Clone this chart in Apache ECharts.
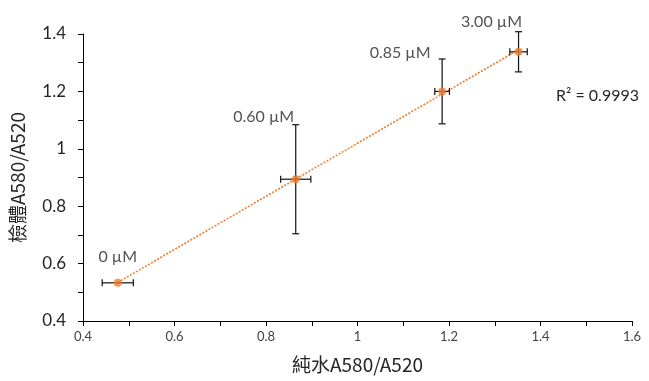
<!DOCTYPE html>
<html>
<head>
<meta charset="utf-8">
<script src="https://cdn.jsdelivr.net/npm/echarts@6/dist/echarts.min.js"></script>
<style>
html, body { margin: 0; padding: 0; background: #fff; }
#chart { width: 649px; height: 381px; }
</style>
</head>
<body>
<div id="chart"></div>
<script>
// values
var xValues   = [0.476, 0.865, 1.185, 1.352];
var yValues   = [0.533, 0.894, 1.200, 1.338];
var xErrors   = [0.034, 0.033, 0.016, 0.019];
var yErrors   = [0.000, 0.190, 0.113, 0.070];
var pointLabels = ['0 µM', '0.60 µM', '0.85 µM', '3.00 µM'];
var labelOffsets = [[0, -14], [-32, -50], [-42, -27], [-27, -18]];
var rSquaredText = 'R² = 0.9993';

var orange = '#ED7D31';
var font = 'Lato, "Open Sans", sans-serif';
var cjkFont = '"Noto Sans CJK TC", "Noto Sans", sans-serif';
var textColor = '#262626';

// least squares trendline from the points
function trendline(xs, ys) {
    var n = xs.length, sx = 0, sy = 0, sxx = 0, sxy = 0;
    for (var i = 0; i < n; i++) {
        sx += xs[i]; sy += ys[i]; sxx += xs[i] * xs[i]; sxy += xs[i] * ys[i];
    }
    var b = (n * sxy - sx * sy) / (n * sxx - sx * sx);
    var a = (sy - b * sx) / n;
    var x0 = Math.min.apply(null, xs), x1 = Math.max.apply(null, xs);
    return [[x0, a + b * x0], [x1, a + b * x1]];
}

var pointData = xValues.map(function (x, i) {
    return {
        value: [x, yValues[i]],
        label: { offset: labelOffsets[i], formatter: pointLabels[i] }
    };
});

var errorData = xValues.map(function (x, i) {
    return [x, yValues[i], xErrors[i], yErrors[i]];
});

function renderErrorBar(params, api) {
    var x = api.value(0), y = api.value(1), xe = api.value(2), ye = api.value(3);
    var style = { stroke: '#111', lineWidth: 1.2 };
    var children = [];
    var l = api.coord([x - xe, y]), r = api.coord([x + xe, y]);
    children.push({ type: 'line', shape: { x1: l[0], y1: l[1], x2: r[0], y2: r[1] }, style: style });
    children.push({ type: 'line', shape: { x1: l[0], y1: l[1] - 3.5, x2: l[0], y2: l[1] + 3.5 }, style: style });
    children.push({ type: 'line', shape: { x1: r[0], y1: r[1] - 3.5, x2: r[0], y2: r[1] + 3.5 }, style: style });
    if (ye > 0) {
        var t = api.coord([x, y + ye]), b = api.coord([x, y - ye]);
        children.push({ type: 'line', shape: { x1: t[0], y1: t[1], x2: b[0], y2: b[1] }, style: style });
        children.push({ type: 'line', shape: { x1: t[0] - 3.5, y1: t[1], x2: t[0] + 3.5, y2: t[1] }, style: style });
        children.push({ type: 'line', shape: { x1: b[0] - 3.5, y1: b[1], x2: b[0] + 3.5, y2: b[1] }, style: style });
    }
    return { type: 'group', children: children };
}

var myChart = echarts.init(document.getElementById('chart'));

var option = {
    animation: false,
    grid: { left: 82, right: 17, top: 34, bottom: 60 },
    xAxis: {
        type: 'value',
        min: 0.4, max: 1.6, interval: 0.2,
        name: '純水A580/A520',
        nameLocation: 'middle',
        nameGap: 34,
        nameTextStyle: { fontFamily: cjkFont, fontSize: 19, color: textColor },
        axisLine: { lineStyle: { color: '#000', width: 1 } },
        axisTick: { length: 5, lineStyle: { color: '#000' } },
        minorTick: { show: true, splitNumber: 2, length: 5, lineStyle: { color: '#000' } },
        splitLine: { show: false },
        axisLabel: { fontFamily: font, fontSize: 13, color: '#444', margin: 9 }
    },
    yAxis: {
        type: 'value',
        min: 0.4, max: 1.4, interval: 0.2,
        name: '檢體A580/A520',
        nameLocation: 'middle',
        nameGap: 56,
        nameTextStyle: { fontFamily: cjkFont, fontSize: 19, color: textColor },
        axisLine: { show: true, lineStyle: { color: '#000', width: 1 } },
        axisTick: { show: true, length: 5, lineStyle: { color: '#000' } },
        minorTick: { show: true, splitNumber: 2, length: 5, lineStyle: { color: '#000' } },
        splitLine: { show: false },
        axisLabel: { fontFamily: font, fontSize: 17, color: textColor, margin: 17 }
    },
    series: [
        {
            type: 'line',
            data: trendline(xValues, yValues),
            symbol: 'none',
            lineStyle: { color: orange, width: 1.6, type: [2, 1.5] },
            silent: true,
            z: 2
        },
        {
            type: 'custom',
            renderItem: renderErrorBar,
            data: errorData,
            encode: { x: 0, y: 1 },
            silent: true,
            z: 3
        },
        {
            type: 'scatter',
            data: pointData,
            symbol: 'circle',
            symbolSize: 8,
            itemStyle: { color: orange },
            label: {
                show: true,
                position: 'top',
                distance: 0,
                fontFamily: font,
                fontSize: 16,
                color: textColor
            },
            z: 4
        }
    ],
    graphic: [{
        type: 'text',
        left: 556,
        top: 88,
        style: { text: rSquaredText, font: '16px ' + font, fill: textColor }
    }]
};

myChart.setOption(option);
</script>
</body>
</html>
